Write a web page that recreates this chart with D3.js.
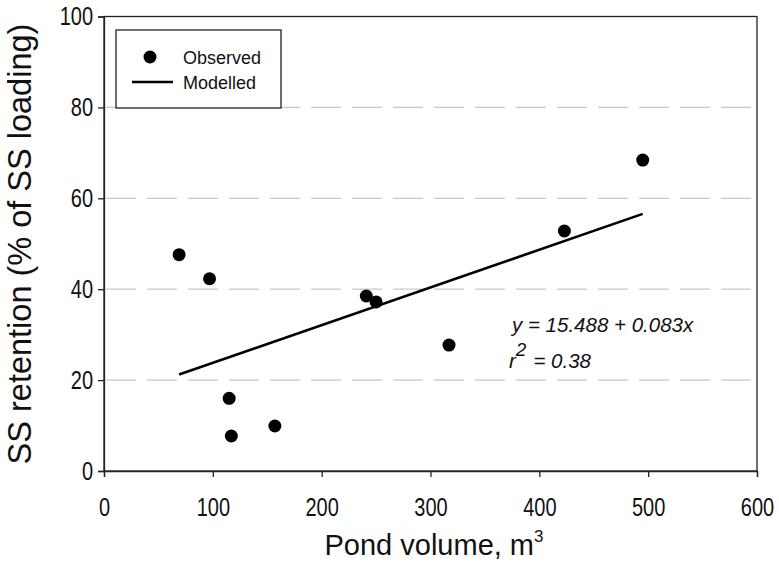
<!DOCTYPE html>
<html><head><meta charset="utf-8">
<script src="https://cdn.jsdelivr.net/npm/d3@7"></script>
<style>
body{margin:0;background:#fff;}
svg{font-family:"Liberation Sans",Arial,Helvetica,sans-serif;}
</style></head>
<body><svg id="c" width="779" height="563"></svg>
<script>
const pondVolume = [69, 97, 115, 117, 157, 241, 250, 317, 423, 495];
const ssRetention = [47.6, 42.3, 16.0, 7.7, 9.9, 38.5, 37.2, 27.7, 52.8, 68.4];
const intercept = 15.488;
const slope = 0.083;
const xTicks = [0, 100, 200, 300, 400, 500, 600];
const yTicks = [0, 20, 40, 60, 80, 100];
const gridValues = [20, 40, 60, 80];
const legendLabels = ["Observed", "Modelled"];

const svg = d3.select("#c");
const L = 104, R = 757, T = 16.5, B = 471;
const x = d3.scaleLinear().domain([0, 600]).range([L, R]);
const y = d3.scaleLinear().domain([0, 100]).range([B, T]);
const SX = 0.8;

// grid
svg.append("g").selectAll("line").data(gridValues).join("line")
  .attr("x1", L + 2).attr("x2", R - 4)
  .attr("y1", d => y(d)).attr("y2", d => y(d))
  .attr("stroke", "#c8c8c8").attr("stroke-width", 1.3)
  .attr("stroke-dasharray", "30,11");

// frame
svg.append("rect").attr("x", L).attr("y", T).attr("width", R - L).attr("height", B - T)
  .attr("fill", "none").attr("stroke", "#222").attr("stroke-width", 1.3);

// axes
const xa = svg.append("g").attr("transform", `translate(0,${B})`)
  .call(d3.axisBottom(x).tickValues(xTicks).tickSize(6).tickPadding(21).tickFormat(d3.format("d")));
const ya = svg.append("g").attr("transform", `translate(${L},0)`)
  .call(d3.axisLeft(y).tickValues(yTicks).tickSize(6).tickPadding(5).tickFormat(d3.format("d")));
[xa, ya].forEach(a => {
  a.select(".domain").attr("stroke", "#222").attr("stroke-width", 1.3);
  a.selectAll(".tick line").attr("stroke", "#222").attr("stroke-width", 1.3);
  a.selectAll("text").attr("font-size", 25).attr("fill", "#111")
    .attr("font-family", "Liberation Sans, Arial, sans-serif")
    .attr("transform", `scale(${SX},1)`);
});
ya.selectAll(".tick text").attr("x", -11 / SX);

// model line
const xmin = d3.min(pondVolume), xmax = d3.max(pondVolume);
const lineData = [xmin, xmax].map(v => [v, intercept + slope * v]);
svg.append("path").datum(lineData)
  .attr("d", d3.line().x(d => x(d[0])).y(d => y(d[1])))
  .attr("stroke", "#000").attr("stroke-width", 2.6).attr("fill", "none");

// points
svg.append("g").selectAll("circle").data(pondVolume).join("circle")
  .attr("cx", d => x(d)).attr("cy", (d, i) => y(ssRetention[i]))
  .attr("r", 6.5).attr("fill", "#000");

// legend
const lg = svg.append("g");
lg.append("rect").attr("x", 116).attr("y", 30).attr("width", 165).attr("height", 78)
  .attr("fill", "#fff").attr("stroke", "#222").attr("stroke-width", 1.3);
lg.append("circle").attr("cx", 150).attr("cy", 57).attr("r", 6.5).attr("fill", "#000");
lg.append("line").attr("x1", 132).attr("x2", 173).attr("y1", 82).attr("y2", 82)
  .attr("stroke", "#000").attr("stroke-width", 2.6);
lg.append("text").attr("x", 183).attr("y", 63.5).attr("font-size", 18).attr("fill", "#111").text(legendLabels[0]);
lg.append("text").attr("x", 183).attr("y", 88.5).attr("font-size", 18).attr("fill", "#111").text(legendLabels[1]);

// annotation
svg.append("text").attr("x", 512).attr("y", 332).attr("font-size", 20.5).attr("font-style", "italic")
  .attr("fill", "#111").text(`y = ${intercept} + ${slope}x`);
const r2 = svg.append("text").attr("x", 509).attr("y", 368).attr("font-size", 20.5)
  .attr("font-style", "italic").attr("fill", "#111");
r2.append("tspan").text("r");
r2.append("tspan").attr("dy", -12).attr("font-size", 19).text("2");
r2.append("tspan").attr("dy", 12).attr("dx", 7).text("= 0.38");

// axis titles
const xt = svg.append("text").attr("x", 434).attr("y", 555).attr("text-anchor", "middle")
  .attr("font-size", 29).attr("fill", "#111");
xt.append("tspan").text("Pond volume, m");
xt.append("tspan").attr("dy", -13).attr("font-size", 17).text("3");

svg.append("text").attr("transform", "translate(31,244) rotate(-90)")
  .attr("text-anchor", "middle").attr("font-size", 32.5).attr("fill", "#111")
  .text("SS retention (% of SS loading)");
</script></body></html>
